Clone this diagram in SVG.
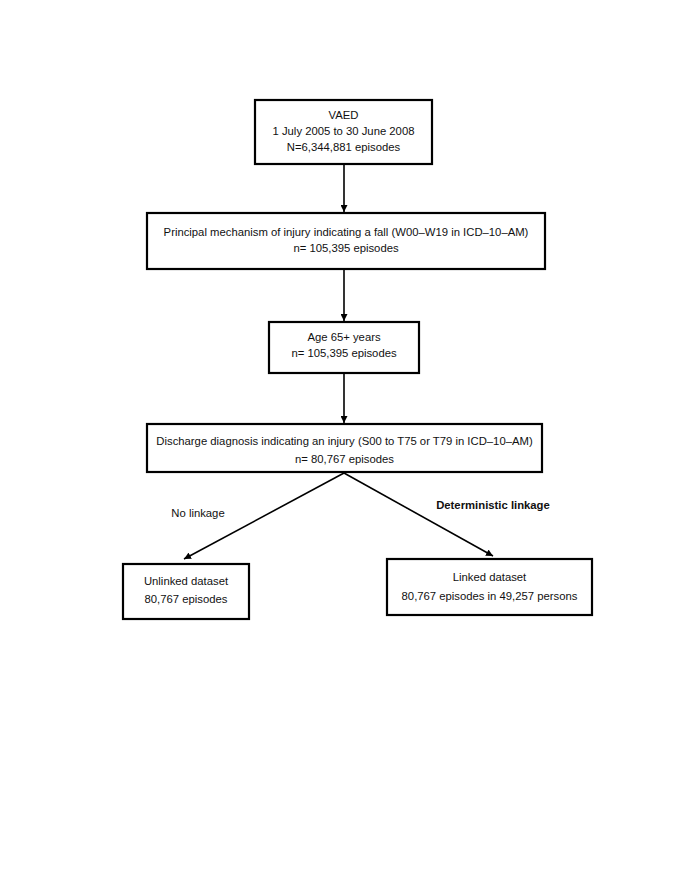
<svg xmlns="http://www.w3.org/2000/svg" width="685" height="886" viewBox="0 0 685 886">
<defs>
<marker id="ah" viewBox="0 0 10 10" refX="10" refY="5" markerWidth="7" markerHeight="7" markerUnits="userSpaceOnUse" orient="auto">
<path d="M0,0 L10,5 L0,10 z" fill="#000"/>
</marker>
<style>
.box{fill:#fff;stroke:#000;stroke-width:2.2}
.t{font-family:"Liberation Sans",Arial,sans-serif;font-size:11.3px;fill:#111;text-anchor:middle}
.b{font-weight:bold}
.c{stroke:#000;stroke-width:1.6;fill:none;marker-end:url(#ah)}
</style>
</defs>
<rect width="685" height="886" fill="#fff"/>
<g id="connectors">
<line class="c" x1="344" y1="165" x2="344" y2="212"/>
<line class="c" x1="344" y1="270" x2="344" y2="321"/>
<line class="c" x1="344" y1="374" x2="344" y2="423"/>
<line class="c" x1="344" y1="473" x2="184" y2="559"/>
<line class="c" x1="344" y1="473" x2="493" y2="556"/>
</g>
<g id="vaed">
<rect class="box" x="255" y="100" width="177" height="64"/>
<text class="t" x="343.5" y="119">VAED</text>
<text class="t" x="343.5" y="135">1 July 2005 to 30 June 2008</text>
<text class="t" x="343.5" y="151">N=6,344,881 episodes</text>
</g>
<g id="fall">
<rect class="box" x="147" y="213" width="398" height="56"/>
<text class="t" x="346" y="236">Principal mechanism of injury indicating a fall (W00–W19 in ICD–10–AM)</text>
<text class="t" x="346" y="252">n= 105,395 episodes</text>
</g>
<g id="age">
<rect class="box" x="269" y="322" width="150" height="51"/>
<text class="t" x="344" y="341">Age 65+ years</text>
<text class="t" x="344" y="357">n= 105,395 episodes</text>
</g>
<g id="injury">
<rect class="box" x="147" y="424" width="395" height="48"/>
<text class="t" x="344.5" y="445">Discharge diagnosis indicating an injury (S00 to T75 or T79 in ICD–10–AM)</text>
<text class="t" x="344.5" y="463">n= 80,767 episodes</text>
</g>
<g id="label-no">
<text class="t" x="198" y="517">No linkage</text>
</g>
<g id="label-det">
<text class="t b" x="493" y="509">Deterministic linkage</text>
</g>
<g id="unlinked">
<rect class="box" x="123" y="564" width="126" height="55"/>
<text class="t" x="186" y="585">Unlinked dataset</text>
<text class="t" x="186" y="603">80,767 episodes</text>
</g>
<g id="linked">
<rect class="box" x="387" y="559" width="205" height="56"/>
<text class="t" x="489.5" y="581">Linked dataset</text>
<text class="t" x="489.5" y="600">80,767 episodes in 49,257 persons</text>
</g>
</svg>
